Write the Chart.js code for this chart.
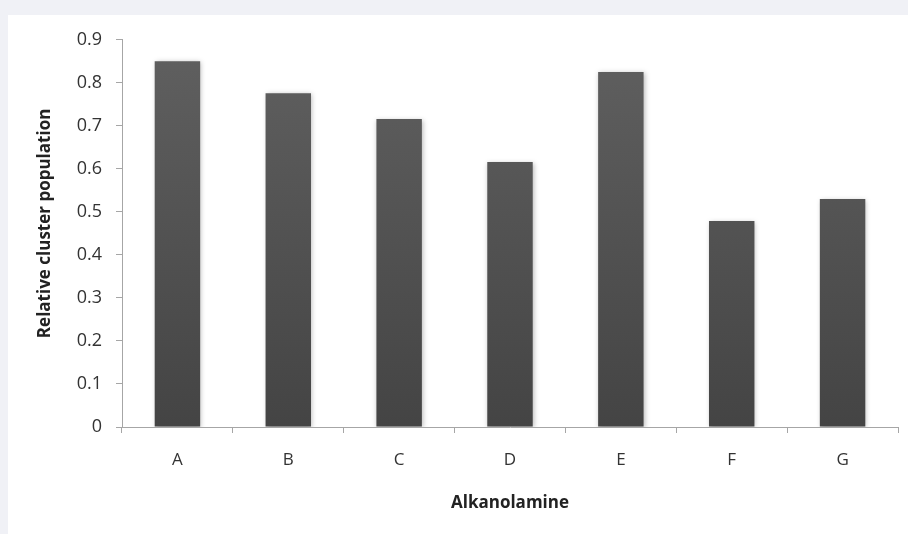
<!DOCTYPE html>
<html>
<head>
<meta charset="utf-8">
<script src="https://cdn.jsdelivr.net/npm/chart.js@4"></script>
<style>
  html, body { margin: 0; padding: 0; background: #f0f1f6; }
  #box { position: absolute; left: 8px; top: 15px; width: 900px; height: 519px; background: #ffffff; }
</style>
</head>
<body>
<div id="box"><canvas id="grafico"></canvas></div>
<script>
const categorias = ["A", "B", "C", "D", "E", "F", "G"];
const populacao = [0.85, 0.776, 0.716, 0.616, 0.825, 0.479, 0.53];
const tituloX = "Alkanolamine";
const tituloY = "Relative cluster population";

const fonte = "'Open Sans', 'DejaVu Sans', sans-serif";

// degradê das barras (mais claro em cima)
function corBarra(context) {
  const chart = context.chart;
  const area = chart.chartArea;
  if (!area) return "#555555";
  const g = chart.ctx.createLinearGradient(0, area.top, 0, area.bottom);
  g.addColorStop(0, "#606060");
  g.addColorStop(1, "#444444");
  return g;
}

const sombra = {
  id: "sombra",
  beforeDatasetsDraw(chart) {
    const ctx = chart.ctx;
    ctx.save();
    ctx.shadowColor = "rgba(0,0,0,0.28)";
    ctx.shadowBlur = 5;
    ctx.shadowOffsetX = 1;
    ctx.shadowOffsetY = 1;
  },
  afterDatasetsDraw(chart) {
    chart.ctx.restore();
  }
};

// título do eixo y, um pouco acima do centro como no original
const tituloEixoY = {
  id: "tituloEixoY",
  afterDraw(chart) {
    const ctx = chart.ctx;
    const area = chart.chartArea;
    ctx.save();
    ctx.translate(37, (area.top + area.bottom) / 2 - 10);
    ctx.rotate(-Math.PI / 2);
    ctx.fillStyle = "#222222";
    ctx.font = "bold 17px " + fonte;
    ctx.textAlign = "center";
    ctx.textBaseline = "middle";
    ctx.fillText(tituloY, 0, 0);
    ctx.restore();
  }
};

const ctx = document.getElementById("grafico").getContext("2d");

new Chart(ctx, {
  type: "bar",
  data: {
    labels: categorias,
    datasets: [
      {
        label: tituloY,
        data: populacao,
        backgroundColor: corBarra,
        barPercentage: 0.41,
        categoryPercentage: 1,
      },
    ],
  },
  plugins: [sombra, tituloEixoY],
  options: {
    responsive: true,
    maintainAspectRatio: false,
    animation: false,
    layout: { padding: { top: 24, right: 10, left: 0, bottom: 0 } },
    scales: {
      x: {
        afterFit: function (scale) { scale.height = 107; },
        grid: {
          offset: true,
          drawOnChartArea: false,
          drawTicks: true,
          tickLength: 6,
          color: "#a6a6a6",
        },
        border: { color: "#a6a6a6" },
        ticks: {
          color: "#333333",
          padding: 17,
          font: { family: fonte, size: 17 },
        },
        title: {
          display: true,
          text: tituloX,
          color: "#222222",
          padding: { top: 0, bottom: 21 },
          font: { family: fonte, size: 17, weight: "bold" },
        },
      },
      y: {
        min: 0,
        max: 0.9,
        afterFit: function (scale) { scale.width = 114; },
        grid: {
          drawOnChartArea: false,
          drawTicks: true,
          tickLength: 6,
          color: "#a6a6a6",
        },
        border: { color: "#a6a6a6" },
        ticks: {
          stepSize: 0.1,
          color: "#333333",
          padding: 14,
          font: { family: fonte, size: 18 },
        },
        title: { display: false },
      },
    },
    plugins: {
      legend: { display: false },
      tooltip: { enabled: false },
    },
  },
});
</script>
</body>
</html>
